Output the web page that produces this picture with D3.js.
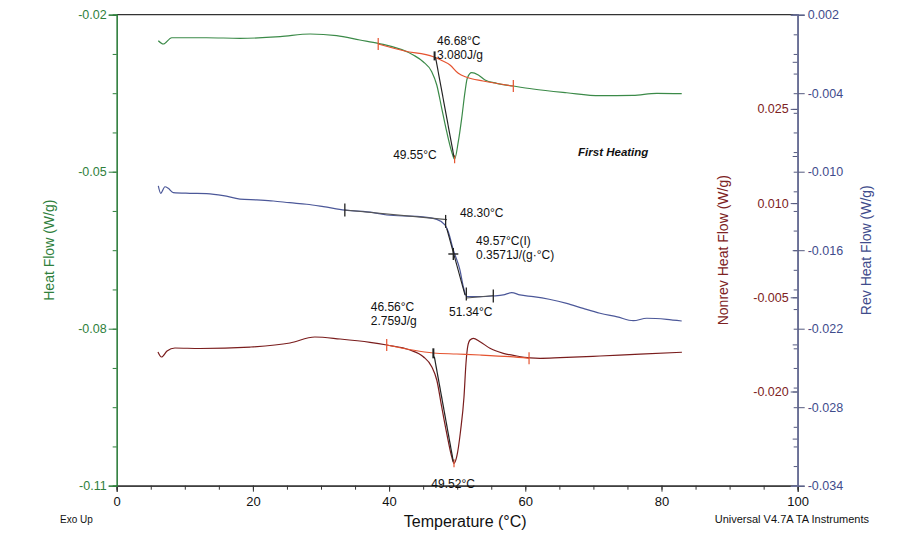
<!DOCTYPE html>
<html>
<head>
<meta charset="utf-8">
<script src="https://cdn.jsdelivr.net/npm/d3@7"></script>
<style>
  html, body { margin: 0; padding: 0; background: #fff; }
  svg { display: block; font-family: "Liberation Sans", Arial, sans-serif; }
</style>
</head>
<body>
<svg id="chart" width="900" height="550"></svg>
<script>
// ---------- DATA ----------
// Total heat flow (left axis, W/g)
const heatT = [6.11, 6.84, 8.08, 13.2, 18.1, 24.0, 28.4, 32.3, 35.7, 38.4, 43.55, 45.0, 46.26, 47.0, 47.72, 48.46, 49.19, 49.62, 50.16, 50.66, 51.15, 51.48, 52.13, 53.1, 54.08, 55.8, 58.24, 61.13, 66.08, 70.97, 75.8, 79.3, 82.97];
const heatFlow = [-0.02497, -0.0256, -0.0244, -0.0244, -0.02451, -0.0242, -0.02369, -0.02401, -0.02483, -0.02547, -0.0277, -0.02898, -0.03089, -0.03343, -0.03783, -0.04236, -0.04618, -0.04760, -0.04427, -0.0398, -0.03471, -0.03215, -0.03108, -0.03152, -0.03248, -0.03311, -0.03363, -0.0342, -0.03491, -0.03548, -0.0354, -0.03502, -0.0351];

// Reversing heat flow (right outer axis, W/g)
const revT = [6.11, 6.46, 7.09, 7.58, 8.31, 10.76, 13.2, 15.65, 18.1, 20.56, 23.0, 25.4, 27.9, 30.34, 33.5, 37.7, 39.65, 44.54, 47.0, 48.2, 48.69, 49.43, 50.4, 50.9, 51.4, 53.35, 55.3, 56.77, 58.0, 59.2, 61.17, 63.5, 66.08, 68.5, 70.97, 73.5, 75.86, 77.83, 80.76, 82.97];
const revHeatFlow = [-0.01109, -0.01165, -0.01115, -0.01127, -0.0116, -0.01165, -0.01168, -0.01183, -0.01209, -0.01216, -0.01224, -0.01237, -0.01249, -0.01267, -0.01293, -0.01313, -0.01331, -0.01344, -0.01364, -0.01407, -0.01459, -0.01598, -0.01751, -0.01879, -0.01955, -0.01955, -0.0195, -0.01942, -0.01925, -0.01942, -0.01955, -0.01975, -0.02006, -0.02045, -0.02082, -0.02110, -0.02139, -0.0212, -0.02128, -0.02141];

// Non-reversing heat flow (right inner axis, W/g)
const nonrevT = [6.06, 6.58, 7.39, 8.56, 12.23, 19.57, 25.45, 29.1, 32.8, 37.2, 39.65, 43.07, 45.02, 46.26, 47.0, 47.72, 48.46, 49.19, 49.53, 49.93, 50.51, 51.0, 51.29, 51.54, 51.88, 52.36, 53.35, 54.81, 56.77, 58.74, 60.7, 62.16, 65.1, 70.97, 76.84, 83.0];
const nonrevHeatFlow = [-0.01371, -0.01451, -0.01355, -0.01307, -0.01315, -0.01292, -0.01228, -0.01132, -0.01164, -0.01217, -0.0126, -0.01339, -0.01446, -0.01605, -0.01817, -0.02242, -0.02666, -0.03038, -0.03144, -0.03038, -0.02613, -0.02083, -0.01551, -0.01287, -0.0118, -0.01153, -0.01207, -0.01312, -0.01392, -0.01435, -0.01465, -0.01472, -0.01462, -0.01435, -0.01405, -0.01375];

// Analysis annotations
const heatBaseT = [38.4, 42.3, 46.5, 47.6, 48.94, 50.16, 51.4, 53.8, 58.24];
const heatBaseV = [-0.0256, -0.02694, -0.02803, -0.02866, -0.02961, -0.0312, -0.03196, -0.03267, -0.03363];
const heatLimitT = [38.4, 58.24, 49.62];
const heatLimitV = [-0.0256, -0.03363, -0.0476];
const heatOnsetT = [46.81, 49.53];
const heatOnsetV = [-0.02808, -0.04719];

const nonrevBaseT = [39.65, 46.5, 49.93, 53.35, 57.76, 60.55];
const nonrevBaseV = [-0.0126, -0.01387, -0.01403, -0.01419, -0.01446, -0.01471];
const nonrevLimitT = [39.65, 60.55, 49.53];
const nonrevLimitV = [-0.0126, -0.01471, -0.03144];
const nonrevOnsetT = [46.64, 49.43];
const nonrevOnsetV = [-0.01446, -0.03118];

const revMarkT = [33.5, 48.3, 51.34, 55.3];
const revMarkV = [-0.01293, -0.0138, -0.01935, -0.0195];
const revUpperTanT = [33.5, 48.5];
const revUpperTanV = [-0.01293, -0.01366];
const revMidTanT = [48.46, 51.15];
const revMidTanV = [-0.01433, -0.01943];
const revLowerTanT = [51.4, 55.4];
const revLowerTanV = [-0.01965, -0.01946];
const revInflT = 49.43, revInflV = -0.01629;

// Tick labels
const xTicks = [0, 20, 40, 60, 80, 100];
const heatTicks = [-0.02, -0.05, -0.08, -0.11];
const nonrevTicks = [0.025, 0.010, -0.005, -0.020];
const revTicks = [0.002, -0.004, -0.010, -0.016, -0.022, -0.028, -0.034];

// ---------- DRAWING ----------
const svg = d3.select("#chart");
const L = 116.7, R = 797.7, T = 14.7, B = 485.7;

const x = d3.scaleLinear([0, 100], [L, R]);
const yH = d3.scaleLinear([-0.11, -0.02], [B, T]);
const yN = d3.scaleLinear([-0.035, 0.040], [B, T]);
const yR = d3.scaleLinear([-0.034, 0.002], [B, T]);

const GREEN = "#3b8a48", GREEN_AX = "#2f7f3c";
const RED = "#7a1d1d", RED_AX = "#7d2222";
const BLUE = "#4c5899", BLUE_AX = "#3f4c8c";
const ORANGE = "#e5532f";
const BLACK = "#222";
const NARROW = "'Liberation Sans Narrow', 'Arial Narrow', 'Liberation Sans', Arial, sans-serif";

const f2 = v => v.toFixed(2);
const f3 = v => v.toFixed(3);

function range(a, b, s) { const r = []; for (let v = a; v <= b + 1e-9; v += s) r.push(+v.toFixed(6)); return r; }

// Top frame line
svg.append("line").attr("x1", L).attr("x2", R).attr("y1", T).attr("y2", T)
  .attr("stroke", "#333").attr("stroke-width", 1.2);

// Bottom axis
const xMinor = svg.append("g").attr("transform", `translate(0,${B})`)
  .call(d3.axisBottom(x).tickValues(range(0, 100, 5)).tickSize(4).tickFormat(""));
const xAx = svg.append("g").attr("transform", `translate(0,${B})`)
  .call(d3.axisBottom(x).tickValues(xTicks).tickSize(6).tickFormat(d3.format("d")));
[xMinor, xAx].forEach(g => {
  g.select(".domain").attr("stroke", "#333").attr("stroke-width", 1.2);
  g.selectAll(".tick line").attr("stroke", "#333");
});
xAx.selectAll(".tick text").attr("font-size", 13).attr("fill", "#111")
  .attr("font-family", NARROW).attr("dy", "0.85em");

// Left axis
const hMinor = svg.append("g").attr("transform", `translate(${L},0)`)
  .call(d3.axisLeft(yH).tickValues(range(-0.11, -0.02, 0.0075)).tickSize(4).tickFormat(""));
const hAx = svg.append("g").attr("transform", `translate(${L},0)`)
  .call(d3.axisLeft(yH).tickValues(heatTicks).tickSize(8).tickFormat(f2));
[hMinor, hAx].forEach(g => {
  g.select(".domain").attr("stroke", GREEN_AX).attr("stroke-width", 1.2);
  g.selectAll(".tick line").attr("stroke", GREEN_AX);
});
hAx.selectAll(".tick text").attr("font-size", 12.5).attr("fill", GREEN_AX).attr("x", -10);

// Right axes
const rMinor = svg.append("g").attr("transform", `translate(${R},0)`)
  .call(d3.axisLeft(yR).tickValues(range(-0.034, 0.002, 0.0015)).tickSize(4).tickFormat(""));
const nMinor = svg.append("g").attr("transform", `translate(${R},0)`)
  .call(d3.axisLeft(yN).tickValues(range(-0.035, 0.040, 0.0075)).tickSize(5).tickFormat(""));
const nAx = svg.append("g").attr("transform", `translate(${R},0)`)
  .call(d3.axisLeft(yN).tickValues(nonrevTicks).tickSize(7).tickFormat(f3));
const rAx = svg.append("g").attr("transform", `translate(${R},0)`)
  .call(d3.axisRight(yR).tickValues(revTicks).tickSize(7).tickFormat(f3));
[rMinor, nMinor, nAx, rAx].forEach(g => {
  g.select(".domain").attr("stroke", "#6b7096").attr("stroke-width", 1.4);
  g.selectAll(".tick line").attr("stroke", "#555a80");
});
nAx.selectAll(".tick text").attr("font-size", 12.5).attr("fill", RED_AX).attr("x", -9);
rAx.selectAll(".tick text").attr("font-size", 12.5).attr("fill", BLUE_AX).attr("x", 10);

// Axis titles
svg.append("text").attr("transform", `translate(54,${(T + B) / 2}) rotate(-90)`)
  .attr("text-anchor", "middle").attr("font-size", 14).attr("fill", GREEN_AX).text("Heat Flow (W/g)");
svg.append("text").attr("transform", `translate(728,${(T + B) / 2}) rotate(-90)`)
  .attr("text-anchor", "middle").attr("font-size", 14).attr("fill", RED_AX).text("Nonrev Heat Flow (W/g)");
svg.append("text").attr("transform", `translate(871,${(T + B) / 2}) rotate(-90)`)
  .attr("text-anchor", "middle").attr("font-size", 14).attr("fill", BLUE_AX).text("Rev Heat Flow (W/g)");
svg.append("text").attr("x", x(50) + 8).attr("y", 527).attr("text-anchor", "middle")
  .attr("font-size", 16).attr("fill", "#111").attr("font-family", NARROW)
  .text("Temperature (°C)");
svg.append("text").attr("x", 60).attr("y", 523).attr("font-size", 10).attr("fill", "#111")
  .attr("font-family", NARROW).text("Exo Up");
svg.append("text").attr("x", 869).attr("y", 523).attr("text-anchor", "end").attr("font-size", 11).attr("fill", "#111")
  .attr("font-family", NARROW).text("Universal V4.7A TA Instruments");

// Line helper
function path(ts, vs, ys, color, w, curve) {
  const pts = ts.map((t, i) => [t, vs[i]]);
  svg.append("path").datum(pts)
    .attr("d", d3.line().x(d => x(d[0])).y(d => ys(d[1])).curve(curve || d3.curveMonotoneX))
    .attr("fill", "none").attr("stroke", color).attr("stroke-width", w)
    .attr("stroke-linejoin", "round");
}
function vtick(t, v, ys, color, h, w) {
  svg.append("line").attr("x1", x(t)).attr("x2", x(t))
    .attr("y1", ys(v) - h).attr("y2", ys(v) + h)
    .attr("stroke", color).attr("stroke-width", w || 1.3);
}

// Curves
path(heatT, heatFlow, yH, GREEN, 1.2);
path(revT, revHeatFlow, yR, BLUE, 1.2);
path(nonrevT, nonrevHeatFlow, yN, RED, 1.2);

// Heat flow analysis
path(heatBaseT, heatBaseV, yH, ORANGE, 1.2);
heatLimitT.forEach((t, i) => vtick(t, heatLimitV[i], yH, ORANGE, i === 2 ? 4 : 6, 1.2));
path(heatOnsetT, heatOnsetV, yH, BLACK, 1.2, d3.curveLinear);
vtick(46.68, -0.02787, yH, BLACK, 4.5, 2);

// Nonrev analysis
path(nonrevBaseT, nonrevBaseV, yN, ORANGE, 1.2);
nonrevLimitT.forEach((t, i) => vtick(t, nonrevLimitV[i], yN, ORANGE, i === 2 ? 4 : 6, 1.2));
path(nonrevOnsetT, nonrevOnsetV, yN, BLACK, 1.2, d3.curveLinear);
vtick(46.5, -0.01392, yN, BLACK, 5, 2);

// Rev analysis
path(revUpperTanT, revUpperTanV, yR, "#555", 1.1, d3.curveLinear);
path(revMidTanT, revMidTanV, yR, BLACK, 1.1, d3.curveLinear);
path(revLowerTanT, revLowerTanV, yR, "#555", 1.1, d3.curveLinear);
revMarkT.forEach((t, i) => vtick(t, revMarkV[i], yR, BLACK, 6.5, 1.3));
svg.append("line").attr("x1", x(revInflT) - 5).attr("x2", x(revInflT) + 5)
  .attr("y1", yR(revInflV)).attr("y2", yR(revInflV)).attr("stroke", BLACK).attr("stroke-width", 1.4);
vtick(revInflT, revInflV, yR, BLACK, 6, 1.4);

// Annotation texts
function label(t, v, ys, txt, opts) {
  opts = opts || {};
  svg.append("text").attr("x", x(t)).attr("y", ys(v))
    .attr("text-anchor", opts.anchor || "start")
    .attr("font-size", opts.size || 12).attr("fill", "#111")
    .attr("font-weight", opts.weight || "normal").attr("font-style", opts.style || "normal")
    .text(txt);
}
label(47.03, -0.0258, yH, "46.68°C");
label(47.03, -0.02847, yH, "3.080J/g");
label(40.6, -0.04758, yH, "49.55°C");
label(67.75, -0.0470, yH, "First Heating", { weight: "bold", style: "italic", size: 11.5 });
label(50.4, -0.01346, yR, "48.30°C");
label(52.76, -0.0156, yR, "49.57°C(I)");
label(52.76, -0.01667, yR, "0.3571J/(g·°C)");
label(48.8, -0.02103, yR, "51.34°C");
label(37.3, -0.00718, yN, "46.56°C");
label(37.3, -0.00941, yN, "2.759J/g");
label(49.4, -0.0353, yN, "49.52°C", { anchor: "middle" });
</script>
</body>
</html>
